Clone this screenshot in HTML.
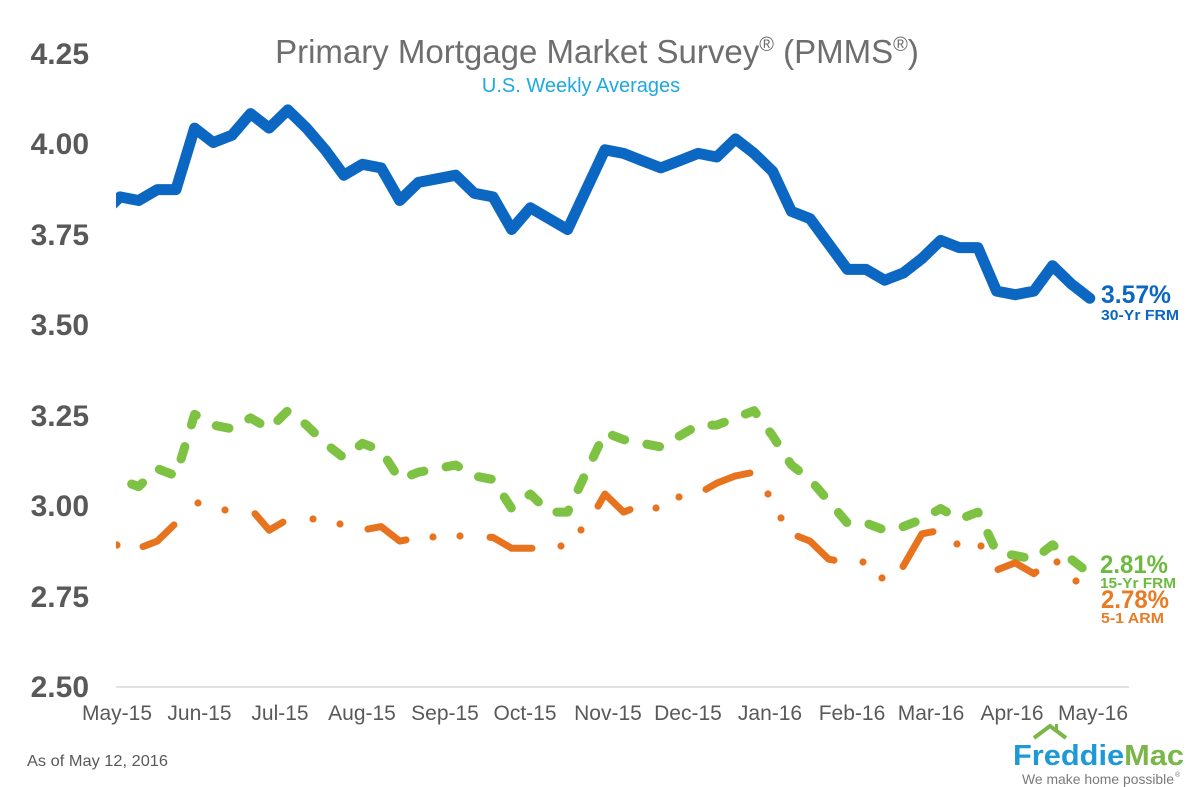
<!DOCTYPE html>
<html>
<head>
<meta charset="utf-8">
<style>
  html, body { margin: 0; padding: 0; background: #ffffff; }
  body { width: 1200px; height: 787px; overflow: hidden; }
  svg { display: block; }
  text { font-family: "Liberation Sans", Arial, sans-serif; }
</style>
</head>
<body>
<svg width="1200" height="787" viewBox="0 0 1200 787" xmlns="http://www.w3.org/2000/svg">
  <defs>
    <clipPath id="plot">
      <rect x="116" y="0" width="1084" height="787"/>
    </clipPath>
  </defs>
  <rect x="0" y="0" width="1200" height="787" fill="#ffffff"/>

  <!-- Title -->
  <text x="597" y="63" text-anchor="middle" font-size="33" fill="#6e6e6e">Primary Mortgage Market Survey<tspan font-size="20" dy="-12">®</tspan><tspan dy="12"> (PMMS</tspan><tspan font-size="20" dy="-12">®</tspan><tspan dy="12">)</tspan></text>
  <text x="581" y="92" text-anchor="middle" font-size="20" fill="#1ea9e1">U.S. Weekly Averages</text>

  <!-- Y axis labels -->
  <g font-size="30" font-weight="bold" fill="#595959" text-anchor="end">
    <text x="89" y="64">4.25</text>
    <text x="89" y="154">4.00</text>
    <text x="89" y="245">3.75</text>
    <text x="89" y="335">3.50</text>
    <text x="89" y="426">3.25</text>
    <text x="89" y="516">3.00</text>
    <text x="89" y="607">2.75</text>
    <text x="89" y="697">2.50</text>
  </g>

  <!-- Axis line -->
  <line x1="116" y1="687" x2="1129" y2="687" stroke="#d9d9d9" stroke-width="1.5"/>

  <!-- X labels -->
  <g font-size="21" fill="#595959" text-anchor="middle">
    <text x="117" y="720">May-15</text>
    <text x="199.5" y="720">Jun-15</text>
    <text x="280" y="720">Jul-15</text>
    <text x="362" y="720">Aug-15</text>
    <text x="445" y="720">Sep-15</text>
    <text x="525" y="720">Oct-15</text>
    <text x="608" y="720">Nov-15</text>
    <text x="688" y="720">Dec-15</text>
    <text x="770" y="720">Jan-16</text>
    <text x="852" y="720">Feb-16</text>
    <text x="931" y="720">Mar-16</text>
    <text x="1012" y="720">Apr-16</text>
    <text x="1093" y="720">May-16</text>
  </g>

  <g clip-path="url(#plot)" fill="none" stroke-linejoin="round" stroke-linecap="round">
    <!-- 15-Yr FRM (green dashed) -->
    <polyline stroke="#7dc242" stroke-width="9" stroke-dasharray="13 22.6" stroke-dashoffset="23.1"
      points="120,479.5 138.65,486.7 157.3,468.6 175.95,475.9 194.6,414.3 213.25,425.1 231.9,428.8 250.55,417.9 269.2,428.8 287.85,410.7 306.5,425.1 325.15,443.3 343.8,457.8 362.45,443.3 381.1,450.5 399.75,479.5 418.4,472.2 437.05,468.6 455.7,465.0 474.35,475.9 493,479.5 511.65,508.5 530.3,494.0 548.95,512.1 567.6,512.1 586.25,472.2 604.9,432.4 623.55,439.6 642.2,443.3 660.85,446.9 679.5,436.0 698.15,425.1 716.8,425.1 735.45,417.9 754.1,410.7 772.75,436.0 791.4,465.0 810.05,479.5 828.7,501.2 847.35,523.0 866,523.0 884.65,530.2 903.3,526.6 921.95,519.3 940.6,508.5 959.25,519.3 977.9,512.1 996.55,551.9 1015.2,555.6 1033.85,559.2 1052.5,544.7 1071.15,559.2 1089.8,573.7"/>

    <!-- 5-1 ARM (orange dash + dots, drawn explicitly) -->
    <g stroke="#e8731f" stroke-width="7">
      <polyline points="143,546.6 157.3,541.1 174,524.9"/>
      <polyline points="255,513.7 269.2,530.2 283,522.1"/>
      <polyline points="368,529.1 381.1,526.6 399.75,541.1 406,539.9"/>
      <polyline points="490,537.4 493,537.4 511.65,548.3 530.3,548.3 532,548.3"/>
      <polyline points="598,506.1 604.9,494.0 623.55,512.1 630,509.6"/>
      <polyline points="706,489.4 716.8,483.1 735.45,475.9 750,473.0"/>
      <polyline points="798,536.4 810.05,541.1 828.7,559.2 834,560.2"/>
      <polyline points="903,566.5 921.95,533.8 933,531.7"/>
      <polyline points="998,569.5 1015.2,562.8 1033.85,573.7 1036,572.0"/>
    </g>
    <g fill="#e8731f">
      <circle cx="117" cy="545" r="3.6"/>
      <circle cx="198" cy="503" r="3.6"/>
      <circle cx="225" cy="510" r="3.6"/>
      <circle cx="313" cy="519" r="3.6"/>
      <circle cx="340" cy="524" r="3.6"/>
      <circle cx="433" cy="537" r="3.6"/>
      <circle cx="460" cy="536" r="3.6"/>
      <circle cx="561" cy="546" r="3.6"/>
      <circle cx="581" cy="530" r="3.6"/>
      <circle cx="656" cy="508" r="3.6"/>
      <circle cx="679" cy="497" r="3.6"/>
      <circle cx="768" cy="494" r="3.6"/>
      <circle cx="781" cy="518" r="3.6"/>
      <circle cx="863" cy="562" r="3.6"/>
      <circle cx="882" cy="578" r="3.6"/>
      <circle cx="957" cy="544" r="3.6"/>
      <circle cx="981" cy="546" r="3.6"/>
      <circle cx="1057" cy="562" r="3.6"/>
      <circle cx="1076" cy="581" r="3.6"/>
    </g>

    <!-- 30-Yr FRM (blue solid) -->
    <polyline stroke="#0b67c2" stroke-width="11"
      points="101.35,215.0 120,196.9 138.65,200.5 157.3,189.6 175.95,189.6 194.6,128.1 213.25,142.55 231.9,135.3 250.55,113.6 269.2,128.1 287.85,109.9 306.5,128.1 325.15,149.8 343.8,175.2 362.45,164.3 381.1,167.9 399.75,200.5 418.4,182.4 437.05,178.8 455.7,175.2 474.35,193.3 493,196.9 511.65,229.5 530.3,207.8 548.95,218.6 567.6,229.5 586.25,189.6 604.9,149.8 623.55,153.4 642.2,160.7 660.85,167.9 679.5,160.7 698.15,153.4 716.8,157.0 735.45,138.9 754.1,153.4 772.75,171.5 791.4,211.4 810.05,218.6 828.7,244.0 847.35,269.4 866,269.4 884.65,280.2 903.3,273.0 921.95,258.5 940.6,240.4 959.25,247.6 977.9,247.6 996.55,291.1 1015.2,294.7 1033.85,291.1 1052.5,265.7 1071.15,283.8 1089.8,298.3"/>
  </g>

  <!-- End labels -->
  <g font-weight="bold">
    <text x="1101" y="303" font-size="25" fill="#0b67c2" textLength="70" lengthAdjust="spacingAndGlyphs">3.57%</text>
    <text x="1101" y="320" font-size="15" fill="#0b67c2" textLength="78" lengthAdjust="spacingAndGlyphs">30-Yr FRM</text>
    <text x="1100" y="573" font-size="25" fill="#6cbb3f" textLength="68" lengthAdjust="spacingAndGlyphs">2.81%</text>
    <text x="1100" y="588" font-size="15" fill="#6cbb3f" textLength="76" lengthAdjust="spacingAndGlyphs">15-Yr FRM</text>
    <text x="1101" y="608" font-size="25" fill="#e97b24" textLength="68" lengthAdjust="spacingAndGlyphs">2.78%</text>
    <text x="1101" y="623" font-size="15" fill="#e97b24" textLength="63" lengthAdjust="spacingAndGlyphs">5-1 ARM</text>
  </g>

  <!-- Footnote -->
  <text x="27" y="766" font-size="16" fill="#595959" textLength="141" lengthAdjust="spacingAndGlyphs">As of May 12, 2016</text>

  <!-- Freddie Mac logo -->
  <polyline points="1034,738 1050,726 1066,738" fill="none" stroke="#7ab648" stroke-width="4" stroke-linejoin="miter"/>
  <rect x="1055" y="724" width="3" height="6" fill="#7ab648"/>
  <text x="1013" y="765" font-size="29" font-weight="bold" textLength="171" lengthAdjust="spacingAndGlyphs"><tspan fill="#1d9ad6">Freddie</tspan><tspan fill="#7ab648">Mac</tspan></text>
  <text x="1022" y="784" font-size="14" fill="#7a7a7a" textLength="152" lengthAdjust="spacingAndGlyphs">We make home possible</text>
  <text x="1175" y="777" font-size="7" fill="#7a7a7a">®</text>
</svg>
</body>
</html>
